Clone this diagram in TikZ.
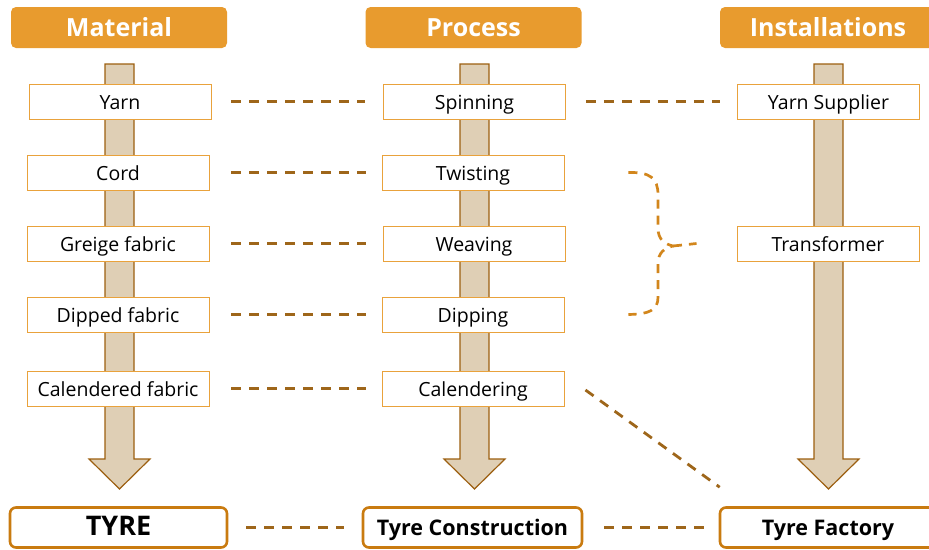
\documentclass[tikz,border=0pt]{standalone}
\usepackage{fontspec}
\setmainfont{Open Sans}
\usetikzlibrary{calc}
\definecolor{hdr}{HTML}{E89B2E}
\definecolor{boxc}{HTML}{E9A23C}
\definecolor{conc}{HTML}{9E661A}
\definecolor{bracec}{HTML}{D2861C}
\definecolor{botc}{HTML}{C97B10}
\definecolor{arrfill}{HTML}{DFCFB5}
\definecolor{arrline}{HTML}{9C5F10}
\tikzset{
  hdrbox/.style={fill=hdr, rounded corners=5pt, minimum width=216pt, minimum height=41pt, inner sep=0pt,
    text=white, font=\fontsize{25}{25}\selectfont\bfseries},
  itembox/.style={draw=boxc, line width=0.9pt, fill=white, minimum width=182pt, minimum height=35pt, inner sep=0pt,
    font=\fontsize{19.5}{20}\selectfont, text height=16.5pt, text depth=1.5pt},
  botbox/.style={draw=botc, line width=2.6pt, fill=white, rounded corners=6pt, minimum width=216pt, minimum height=40pt, inner sep=0pt,
    font=\fontsize{21.5}{21.5}\selectfont\bfseries, text height=17.5pt, text depth=1.5pt},
  conn/.style={draw=conc, line width=2.8pt, dash pattern=on 10pt off 8pt},
  bracel/.style={draw=bracec, line width=2.7pt, dash pattern=on 9pt off 7pt},
  arr/.style={fill=arrfill, draw=arrline, line width=1.2pt, line join=miter},
}
\begin{document}
\begin{tikzpicture}[x=1pt,y=-1pt]
\useasboundingbox (0,0) rectangle (929,549);
% headers
\node[hdrbox] (hmat) at (119,27.5) {Material};
\node[hdrbox] (hpro) at (473.5,27.5) {Process};
\node[hdrbox] (hins) at (828,27.5) {Installations};
% big arrows
\foreach \c in {119.5,474.5,828.5}{
  \draw[arr] (\c-14.5,64) -- (\c+14.5,64) -- (\c+14.5,459) -- (\c+30.5,459) -- (\c,489) -- (\c-30.5,459) -- (\c-14.5,459) -- cycle;
}
% material
\node[itembox] (yarn) at (120,101.5) {Yarn};
\node[itembox] (cord) at (118,172.5) {Cord};
\node[itembox] (greige) at (118,243.5) {Greige fabric};
\node[itembox] (dipped) at (118,314.5) {Dipped fabric};
\node[itembox] (cal) at (118,388.5) {Calendered fabric};
% process
\node[itembox] (spin) at (474.5,101.5) {Spinning};
\node[itembox] (twist) at (473,172.5) {Twisting};
\node[itembox] (weave) at (474,243.5) {Weaving};
\node[itembox] (dip) at (473,314.5) {Dipping};
\node[itembox] (caling) at (473,388.5) {Calendering};
% installations
\node[itembox] (ysup) at (828.5,101.5) {Yarn Supplier};
\node[itembox] (trans) at (828,243.5) {Transformer};
% bottom
\node[botbox, minimum width=217pt] (tyre) at (118.5,527.5) {\fontsize{27}{27}\selectfont TYRE};
\node[botbox, minimum width=219pt] (tc) at (472.5,527.5) {Tyre Construction};
\node[botbox] (tf) at (828,527.5) {Tyre Factory};
% connectors
\draw[conn, shorten <=20pt, shorten >=18pt] (yarn) -- (spin);
\draw[conn, shorten <=20pt, shorten >=17pt] (spin) -- (ysup);
\draw[conn, shorten <=22pt, shorten >=16pt] (cord) -- (twist);
\draw[conn, shorten <=22pt, shorten >=17pt] (greige) -- (weave);
\draw[conn, shorten <=22pt, shorten >=16pt] (dipped) -- (dip);
\draw[conn, shorten <=22pt, shorten >=16pt] (cal) -- (caling);
\draw[conn, shorten <=18pt, shorten >=18pt] (tyre) -- (tc);
\draw[conn, shorten <=21pt, shorten >=14pt] (tc) -- (tf);
\coordinate (dgs) at ($(caling.east)+(21,1.5)$);
\coordinate (dge) at ($(tf.north west)+(1,-19)$);
\draw[conn] (dgs) -- (dge);
% brace
\coordinate (btop) at ($(twist.east)+(64,0)$);
\coordinate (bbot) at ($(dip.east)+(64,0)$);
\coordinate (btip) at (673,246);
\draw[bracel] (btop) .. controls (650,172) and (658,178) .. (658,195) -- (658,228)
  .. controls (658,240) and (665,244) .. (btip)
  .. controls (665,248) and (658,252) .. (658,264) -- (658,297)
  .. controls (658,310) and (650,314) .. (bbot);
\draw[bracel] (btip) -- ($(trans.west)+(-40,0)$);
\end{tikzpicture}
\end{document}
